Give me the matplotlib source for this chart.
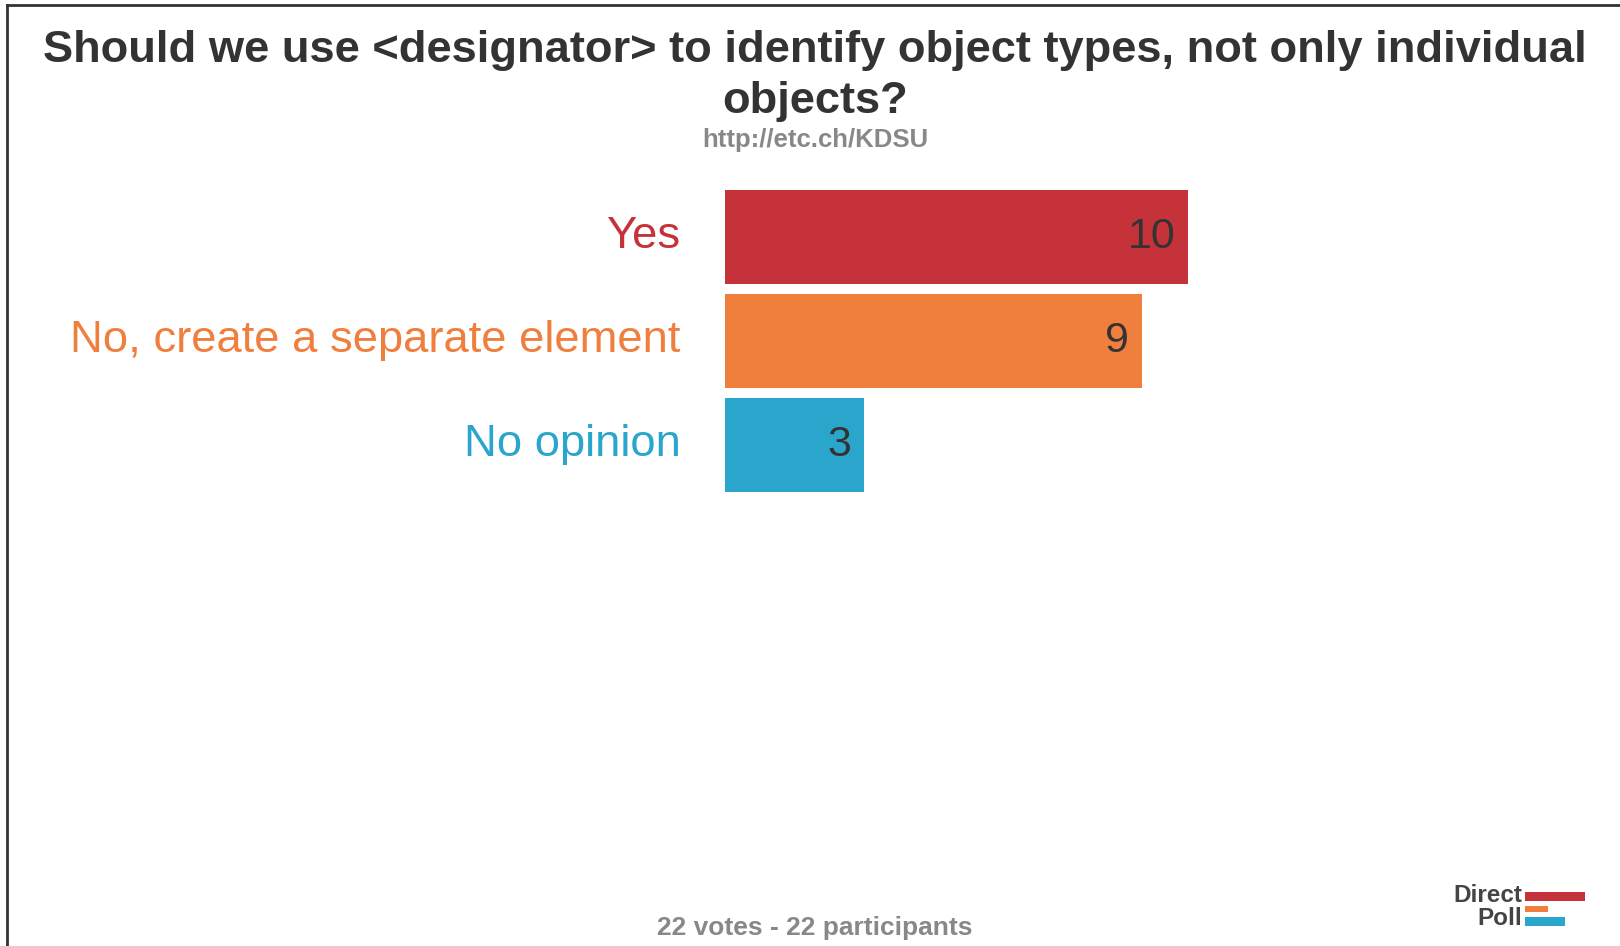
import matplotlib.pyplot as plt
from matplotlib.lines import Line2D

plt.rcParams['font.family'] = ['Liberation Sans', 'DejaVu Sans']

title_lines = ["Should we use <designator> to identify object types, not only individual",
               "objects?"]
subtitle = "http://etc.ch/KDSU"
footer = "22 votes - 22 participants"

answers = ["Yes", "No, create a separate element", "No opinion"]
votes = [10, 9, 3]
colors = ["#C5323A", "#F07F3E", "#2AA5CB"]

# logo bars (Direct Poll)
logo_len = [3.0, 1.15, 2.0]

W, H = 1620, 946
fig = plt.figure(figsize=(W / 100, H / 100), dpi=100)

# frame lines: top and left
fig.add_artist(Line2D([7 / W, 1], [1 - 5 / H, 1 - 5 / H], color="#333333", lw=2))
fig.add_artist(Line2D([7 / W, 7 / W], [0, 1 - 5 / H], color="#333333", lw=2))

fig.text(815 / W, 1 - 62 / H, title_lines[0], ha="center", va="baseline",
         fontsize=32.6, fontweight="bold", color="#333333")
fig.text(815 / W, 1 - 113 / H, title_lines[1], ha="center", va="baseline",
         fontsize=32.6, fontweight="bold", color="#333333")
fig.text(815 / W, 1 - 147 / H, subtitle, ha="center", va="baseline",
         fontsize=18.5, fontweight="bold", color="#888888")
fig.text(815 / W, 1 - 935 / H, footer, ha="center", va="baseline",
         fontsize=19, fontweight="bold", color="#888888")

ax = fig.add_axes([725 / W, 1 - 497 / H, 463 / W, 312 / H])
pos = list(range(len(answers)))
ax.barh(pos, votes, height=0.9, color=colors)
ax.set_xlim(0, 10)
ax.set_ylim(len(answers) - 0.5, -0.5)
ax.set_yticks([])
ax.set_xticks([])
for s in ax.spines.values():
    s.set_visible(False)
for p, a, c in zip(pos, answers, colors):
    ax.annotate(a, (0, p), xycoords=("axes fraction", "data"), xytext=(-32, 0),
                textcoords="offset points", ha="right", va="center",
                fontsize=32.7, color=c)
for p, v in zip(pos, votes):
    ax.annotate(str(v), (v, p), xytext=(-9, 0), textcoords="offset points",
                ha="right", va="center", fontsize=31, color="#333333")

# logo
lax = fig.add_axes([1525 / W, 1 - 928 / H, 62 / W, 38 / H])
lax.barh([0, 1, 2], logo_len, height=[0.75, 0.5, 0.75], color=colors)
lax.set_xlim(0, 3.1)
lax.set_ylim(2.5, -0.5)
lax.axis("off")
fig.text(1522 / W, 1 - 902 / H, "Direct", ha="right", va="baseline",
         fontsize=17.5, fontweight="bold", color="#444444")
fig.text(1522 / W, 1 - 925 / H, "Poll", ha="right", va="baseline",
         fontsize=17.5, fontweight="bold", color="#444444")

fig.savefig("out.png", dpi=100)
